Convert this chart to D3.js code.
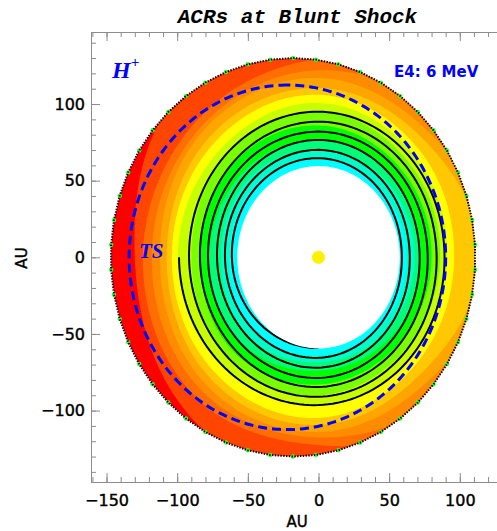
<!DOCTYPE html>
<html><head><meta charset="utf-8">
<script src="https://cdn.jsdelivr.net/npm/d3@7"></script>
<style>body{margin:0;background:#fff}</style>
</head><body>
<svg id="c" width="497" height="531"></svg>
<script>
// ---------------- data (AU) ----------------
const xTicks = [-150, -100, -50, 0, 50, 100];
const yTicks = [-100, -50, 0, 50, 100];
const xDomain = [-161, 130];
const yDomain = [-146.6, 147];

// contour band outer edges: radius (AU, from Sun) at these angles (deg)
const bandAngles = [0, 45, 90, 135, 180, 225, 270, 315];
const edgeRedOrange = [160, 160, 150, 145, 130, 137, 150, 160];
const edgeOrange1   = [150, 150, 129.5, 124, 124.3, 126, 122.5, 140];
const edgeOrange2   = [135, 125, 122, 119, 118, 120, 117.5, 125];
const edgeOrange3   = [125, 113, 117, 116, 112.3, 115, 114, 112];
const edgeGold      = [114, 107, 110.5, 110, 107.4, 110, 109.4, 105];
const edgeYellow    = [96, 100, 106, 105, 103.8, 105, 104.8, 98];
const edgeYG1       = [91, 95, 100.7, 99, 99.6, 99, 96.3, 92];
const edgeYG2       = [86, 89, 95, 93, 90, 92, 90, 86];
const edgeGreen     = [80, 82, 86, 86, 84, 86, 83, 80];
const edgeSpring    = [72.5, 74, 76.5, 77, 76.9, 78, 74, 73];
const edgeAqua      = [68, 69, 70, 71, 69, 71.5, 68.5, 68];
const edgeCyan      = [62.5, 62.5, 64, 65, 63, 66.5, 64, 63];
const bandEdges  = [edgeRedOrange, edgeOrange1, edgeOrange2, edgeOrange3, edgeGold, edgeYellow,
                    edgeYG1, edgeYG2, edgeGreen, edgeSpring, edgeAqua, edgeCyan];
const bandColors = ["#ff4500", "#ff6e00", "#ff8c00", "#ffa500", "#ffc800", "#ffff00",
                    "#c8ff00", "#78ff00", "#00ff00", "#00ff78", "#00ffc8", "#00ffff"];
const outerColor = "#ff0000";

// outer (blunt shock) boundary, termination shock, inner hole
const boundaryCenter = [-18, 0];
const boundaryRadii = [129, 130];
const boundaryVertexCount = 50;
const boundaryVertexOffsetDeg = 3.6;
const tsCenter = [-22, 0];
const tsRadii = [112, 112.4];
const holeRadii = [57.5, 59.5];

// field-line spiral: radius (AU) at successive quarter turns, starting at 180 deg, counter-clockwise
const spiralStartDeg = 180;
const spiralRadii = [98.7, 96.4, 89.2, 95, 91.6, 91, 83.6, 88.5, 83.9, 84.6, 77.3, 82, 78.2,
                     78.7, 71.6, 76.6, 71.8, 72, 64.6, 70.1, 66.2, 65.6, 59, 64.7, 61.3, 59.2];

// ---------------- chart ----------------
const svg = d3.select("#c");
const x = d3.scaleLinear().domain(xDomain).range([91, 502.2]);
const y = d3.scaleLinear().domain(yDomain).range([482, 32]);
const rad = Math.PI / 180;
const line = d3.line();

function cr(p0, p1, p2, p3, t) {
  return 0.5 * (2 * p1 + (-p0 + p2) * t + (2 * p0 - 5 * p1 + 4 * p2 - p3) * t * t +
                (-p0 + 3 * p1 - 3 * p2 + p3) * t * t * t);
}
function bandPath(radii) {
  const n = radii.length, step = 360 / n, pts = [];
  for (let a = 0; a < 360; a += 1.5) {
    const i = Math.floor(a / step), t = (a - i * step) / step;
    const r = cr(radii[(i - 1 + n) % n], radii[i], radii[(i + 1) % n], radii[(i + 2) % n], t);
    pts.push([x(r * Math.cos(a * rad)), y(r * Math.sin(a * rad))]);
  }
  return line(pts) + "Z";
}
function ellipsePts(c, r, step, offset) {
  const pts = [];
  for (let a = offset; a < 360 + offset - 1e-9; a += step)
    pts.push([x(c[0] + r[0] * Math.cos(a * rad)), y(c[1] + r[1] * Math.sin(a * rad))]);
  return pts;
}
const bVerts = ellipsePts(boundaryCenter, boundaryRadii, 360 / boundaryVertexCount, boundaryVertexOffsetDeg);
const boundaryD = line(bVerts) + "Z";

svg.append("defs").append("clipPath").attr("id", "clipB").append("path").attr("d", boundaryD);
const gMap = svg.append("g").attr("clip-path", "url(#clipB)");
gMap.append("path").attr("d", boundaryD).attr("fill", outerColor);
bandEdges.forEach((e, i) => {
  gMap.append("path").attr("d", bandPath(e)).attr("fill", bandColors[i]);
});

// spiral
const sp = [];
const N = spiralRadii.length;
for (let i = 0; i < N - 1; i++) {
  const p0 = spiralRadii[Math.max(i - 1, 0)], p1 = spiralRadii[i], p2 = spiralRadii[i + 1],
        p3 = spiralRadii[Math.min(i + 2, N - 1)];
  for (let t = 0; t < 1; t += 1 / 45) {
    const a = spiralStartDeg + 90 * (i + t), r = cr(p0, p1, p2, p3, t);
    sp.push([x(r * Math.cos(a * rad)), y(r * Math.sin(a * rad))]);
  }
}
{
  const a = spiralStartDeg + 90 * (N - 1), r = spiralRadii[N - 1];
  sp.push([x(r * Math.cos(a * rad)), y(r * Math.sin(a * rad))]);
}
gMap.append("path").attr("d", line(sp)).attr("fill", "none").attr("stroke", "#000").attr("stroke-width", 2);

// inner hole
gMap.append("path").attr("d", line(ellipsePts([0, 0], holeRadii, 2, 0)) + "Z").attr("fill", "#fff");

// termination shock
gMap.append("path").attr("d", d3.line().curve(d3.curveLinearClosed)(ellipsePts(tsCenter, tsRadii, 1, 90)))
  .attr("fill", "none").attr("stroke", "#0000ff").attr("stroke-width", 3).attr("stroke-dasharray", "9,5");

// boundary: vertex flecks + dotted line
svg.append("g").selectAll("circle").data(bVerts).join("circle")
  .attr("cx", d => d[0]).attr("cy", d => d[1]).attr("r", 2.2).attr("fill", "#33ff33");
svg.append("path").attr("d", boundaryD).attr("fill", "none").attr("stroke", "#000")
  .attr("stroke-width", 2).attr("stroke-dasharray", "1.4,1.4");

// sun
svg.append("circle").attr("cx", x(0)).attr("cy", y(0)).attr("r", 6.5).attr("fill", "#fff000");

// axes
const axColor = "#8c8c8c";
function styleAxis(g) {
  g.select(".domain").attr("stroke", axColor);
  g.selectAll(".tick line").attr("stroke", axColor);
  g.selectAll(".tick text").attr("fill", "#000").attr("stroke", "#000").attr("stroke-width", 0.4)
    .attr("font-family", "DejaVu Sans").attr("font-size", 16);
}
const xMinor = d3.range(-160, 131, 10), yMinor = d3.range(-140, 141, 10);
svg.append("g").attr("transform", "translate(0,482)")
  .call(d3.axisBottom(x).tickValues(xMinor).tickSize(-5).tickSizeOuter(0).tickFormat(""))
  .call(styleAxis);
svg.append("g").attr("transform", "translate(0,482)")
  .call(d3.axisBottom(x).tickValues(xTicks).tickSize(-9).tickSizeOuter(0).tickPadding(13))
  .call(styleAxis);
svg.append("g").attr("transform", "translate(0,32)")
  .call(d3.axisTop(x).tickValues(xMinor).tickSize(-5).tickSizeOuter(0).tickFormat(""))
  .call(styleAxis);
svg.append("g").attr("transform", "translate(0,32)")
  .call(d3.axisTop(x).tickValues(xTicks).tickSize(-9).tickSizeOuter(0).tickFormat(""))
  .call(styleAxis);
svg.append("g").attr("transform", "translate(91,0)")
  .call(d3.axisLeft(y).tickValues(yMinor).tickSize(-5).tickSizeOuter(0).tickFormat(""))
  .call(styleAxis);
svg.append("g").attr("transform", "translate(91,0)")
  .call(d3.axisLeft(y).tickValues(yTicks).tickSize(-9).tickSizeOuter(0).tickPadding(6))
  .call(styleAxis);

// texts
svg.append("text").attr("x", 297.5).attr("y", 23).attr("text-anchor", "middle")
  .attr("font-family", "Liberation Mono").attr("font-weight", "bold").attr("font-style", "italic")
  .attr("font-size", 21).text("ACRs at Blunt Shock");
svg.append("text").attr("x", 297).attr("y", 527).attr("text-anchor", "middle")
  .attr("font-family", "DejaVu Sans").attr("font-size", 15).attr("stroke", "#000").attr("stroke-width", 0.4).text("AU");
svg.append("text").attr("transform", "translate(27,258) rotate(-90)").attr("text-anchor", "middle")
  .attr("font-family", "DejaVu Sans").attr("font-size", 15).attr("stroke", "#000").attr("stroke-width", 0.4).text("AU");
const h = svg.append("text").attr("x", 112).attr("y", 78).attr("fill", "#0000ff")
  .attr("font-family", "Liberation Serif").attr("font-weight", "bold").attr("font-style", "italic")
  .attr("font-size", 24);
h.append("tspan").text("H");
h.append("tspan").attr("dy", -11).attr("font-size", 15).text("+");
svg.append("text").attr("x", 394).attr("y", 77).attr("fill", "#0000ff")
  .attr("font-family", "DejaVu Sans").attr("font-weight", "bold").attr("font-size", 15).text("E4: 6 MeV");
svg.append("text").attr("x", 139).attr("y", 258).attr("fill", "#0000ff")
  .attr("font-family", "Liberation Serif").attr("font-weight", "bold").attr("font-style", "italic")
  .attr("font-size", 21).text("TS");
</script>
</body></html>
